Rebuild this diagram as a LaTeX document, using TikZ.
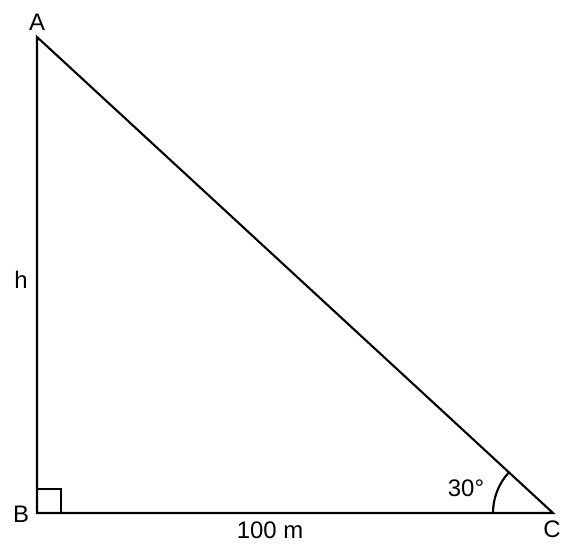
\documentclass[tikz,border=0pt]{standalone}
\usepackage{fontspec}
\setmainfont{Liberation Sans}
\usepackage{tikz}
\usetikzlibrary{angles,calc}

\begin{document}
\begin{tikzpicture}[x=0.025cm,y=0.025cm,
    side/.style={line width=1.5pt,line join=miter},
    lbl/.style={font=\fontsize{17}{20}\selectfont,inner sep=0pt}]
\useasboundingbox (0,0) rectangle (564,555);
% vertices
\coordinate (A) at (37,518);
\coordinate (B) at (37,42);
\coordinate (C) at (553,42);
% triangle
\draw[side] (A) -- (B) -- (C) -- cycle;
% right angle at B
\draw[side] ($(B)+(24,0)$) |- ($(B)+(0,24)$);
% angle at C
\pic[draw, line width=1.5pt, angle radius=1.5cm] {angle=A--C--B};
% labels
\node[lbl] (lA) at (37,533) {A};
\node[lbl] (lB) at (21,41) {B};
\node[lbl] (lC) at (552,26) {C};
\node[lbl] (lh) at (21,275) {h};
\node[lbl] (lbase) at (270,25) {100 m};
\node[lbl] (lang) at (466,67) {30°};
\end{tikzpicture}
\end{document}
